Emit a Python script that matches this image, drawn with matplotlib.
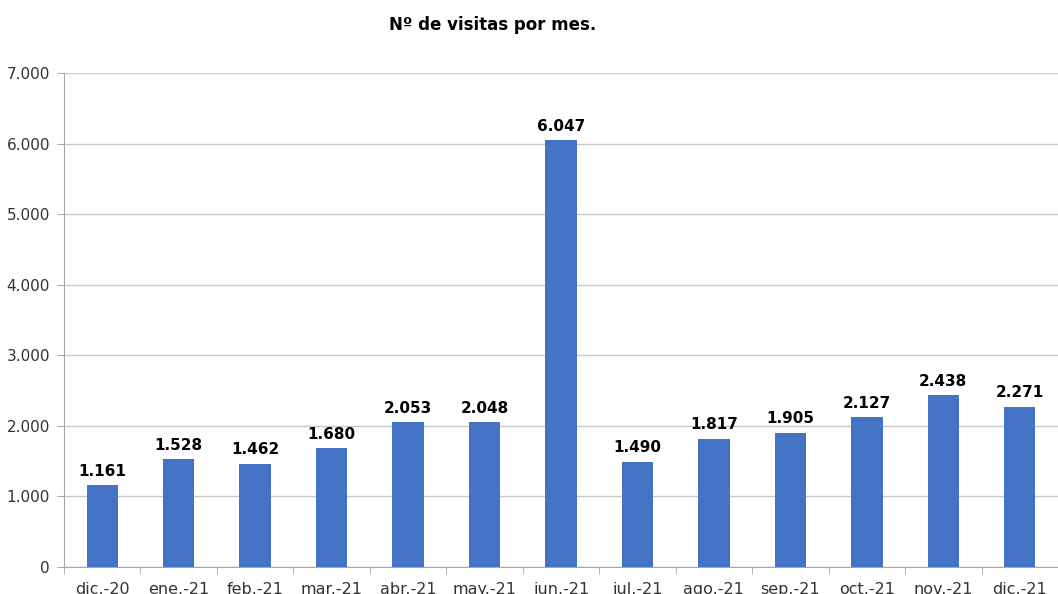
import matplotlib.pyplot as plt
import numpy as np

# Monthly visits, Dec 2020 - Dec 2021
months = ["dic.-20", "ene.-21", "feb.-21", "mar.-21", "abr.-21", "may.-21", "jun.-21",
          "jul.-21", "ago.-21", "sep.-21", "oct.-21", "nov.-21", "dic.-21"]
visits = [1161, 1528, 1462, 1680, 2053, 2048, 6047, 1490, 1817, 1905, 2127, 2438, 2271]
yticks = [0, 1000, 2000, 3000, 4000, 5000, 6000, 7000]


def fmt_es(v):
    # Spanish thousands separator
    return f"{v:,}".replace(",", ".")


plt.rcParams['font.family'] = ['DejaVu Sans']

fig = plt.figure(figsize=(10.58, 5.94), dpi=100)
ax = fig.add_axes([0.0605, 0.0455, 0.9395, 0.8315])

x = np.arange(len(months))
ax.bar(x, visits, width=0.41, color="#4472C4", zorder=3)

for xi, v in zip(x, visits):
    ax.text(xi, v + 90, fmt_es(v), ha="center", va="bottom",
            fontsize=11, fontweight="bold", color="black")

ax.set_xlim(-0.5, len(months) - 0.5)
ax.set_ylim(0, 7000)
ax.set_yticks(yticks)
ax.set_yticklabels([fmt_es(t) for t in yticks], fontsize=11, color="#333333")
ax.set_xticks(x)
ax.set_xticklabels(months, fontsize=11.5, color="#333333")
ax.set_xticks(np.arange(len(months) + 1) - 0.5, minor=True)
ax.tick_params(axis="x", which="major", length=0, pad=11)
ax.tick_params(axis="x", which="minor", length=5, color="#A6A6A6")
ax.tick_params(axis="y", length=5, color="#A6A6A6", pad=5)

ax.grid(axis="y", color="#C8C8C8", linewidth=1, zorder=0)
for side in ["top", "right"]:
    ax.spines[side].set_visible(False)
for side in ["left", "bottom"]:
    ax.spines[side].set_color("#A6A6A6")

fig.text(0.466, 0.958, "Nº de visitas por mes.", ha="center", va="center",
         fontsize=12, fontweight="bold")

fig.savefig("out.png", dpi=100)
